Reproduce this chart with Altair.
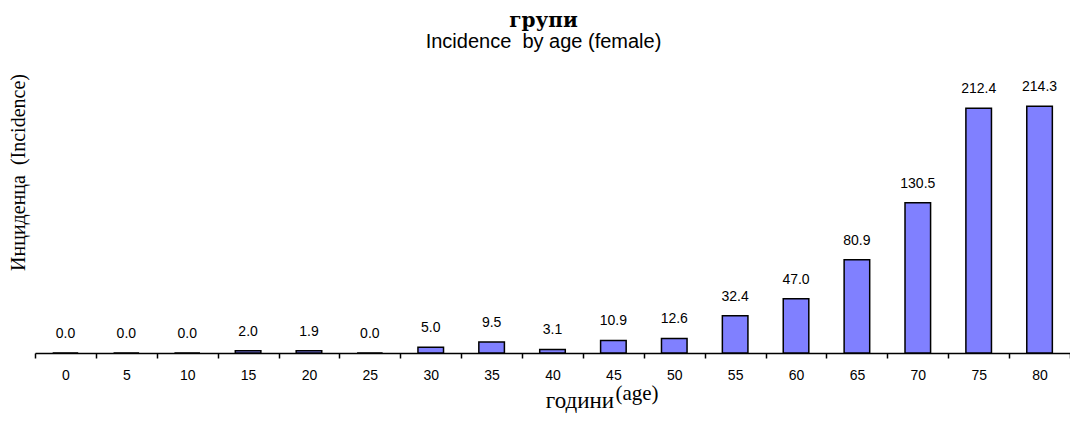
import altair as alt
import pandas as pd

ages = ["0", "5", "10", "15", "20", "25", "30", "35", "40", "45", "50",
        "55", "60", "65", "70", "75", "80"]
values = [0.0, 0.0, 0.0, 2.0, 1.9, 0.0, 5.0, 9.5, 3.1, 10.9, 12.6,
          32.4, 47.0, 80.9, 130.5, 212.4, 214.3]

df = pd.DataFrame({"age": ages, "value": values})

x = alt.X(
    "age:N", sort=ages,
    scale=alt.Scale(paddingInner=0, paddingOuter=0),
    axis=alt.Axis(title=None, labelAngle=0, tickBand="extent", ticks=True,
                  tickSize=5, tickColor="black", tickWidth=1.5,
                  domainColor="black", domainWidth=1.5,
                  labelFont="Liberation Sans", labelFontSize=14,
                  labelColor="black", labelPadding=10, grid=False),
)
y = alt.Y(
    "value:Q",
    scale=alt.Scale(domain=[0, 250], nice=False),
    axis=alt.Axis(title="Инциденца\u00a0 (Incidence)", labels=False, ticks=False,
                  domain=False, grid=False, titleFont="Liberation Serif",
                  titleFontSize=20, titleFontWeight="normal", titleColor="black",
                  titleX=-17, titleY=107, titleAngle=270, titleAlign="center",
                  titleBaseline="middle"),
)

base = alt.Chart(df)
bars = base.mark_bar(width=alt.RelativeBandSize(0.42), color="#8080FF",
                     stroke="black", strokeWidth=1.5).encode(x=x, y=y)
labels = base.mark_text(dy=-19, font="Liberation Sans", fontSize=14,
                        color="black").encode(
    x=x, y=y, text=alt.Text("value:Q", format=".1f"))

xt1 = alt.Chart(pd.DataFrame({"t": ["години"]})).mark_text(
    font="Liberation Serif", fontSize=23, color="black", align="center",
    baseline="alphabetic").encode(x=alt.value(545), y=alt.value(343), text="t:N")
xt2 = alt.Chart(pd.DataFrame({"t": ["(age)"]})).mark_text(
    font="Liberation Serif", fontSize=21, color="black", align="center",
    baseline="alphabetic").encode(x=alt.value(602), y=alt.value(335), text="t:N")

chart = alt.layer(bars, labels, xt1, xt2).properties(
    width=1035, height=288,
    padding={"left": 27, "top": 57, "right": 0, "bottom": 60},
    autosize="none",
    background="white",
    title=alt.Title("групи", subtitle="Incidence\u00a0 by age (female)",
                    font="DejaVu Serif", fontSize=20, fontWeight="bold",
                    color="black", subtitleFont="Liberation Sans",
                    subtitleFontSize=20, subtitleColor="black",
                    anchor="middle", offset=13, subtitlePadding=1, dx=-9),
).configure_view(strokeWidth=0, stroke="transparent")

chart.save("out.html", embed_options={"renderer": "svg", "actions": False})
